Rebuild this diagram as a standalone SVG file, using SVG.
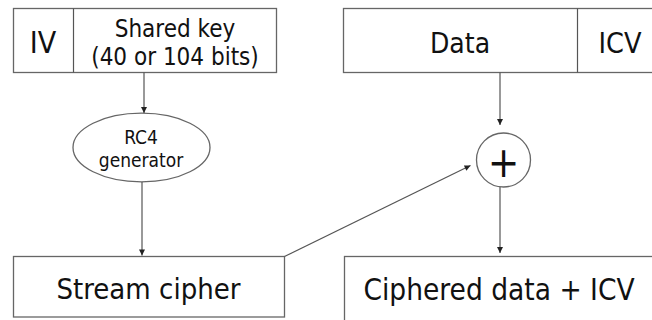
<svg xmlns="http://www.w3.org/2000/svg" width="652" height="320" viewBox="0 0 652 320">
<style>
.box{fill:#fff;stroke:#666;stroke-width:1.3}
.ln{stroke:#555;stroke-width:1.2;fill:none}
.t{font-family:"DejaVu Sans Condensed","DejaVu Sans",sans-serif;font-stretch:condensed;fill:#111;text-anchor:middle}
</style>
<defs>
<marker id="ah" viewBox="0 0 10 10" refX="10" refY="5" markerWidth="7" markerHeight="6" markerUnits="userSpaceOnUse" orient="auto">
<path d="M0,0 L10,5 L0,10 z" fill="#222"/>
</marker>
</defs>
<rect width="652" height="320" fill="#fff"/>
<g id="key">
<rect class="box" x="13.5" y="8.5" width="263" height="64"/>
<line class="ln" x1="73.5" y1="8.5" x2="73.5" y2="72.5"/>
<text class="t" x="43" y="53" font-size="30">IV</text>
<text class="t" x="175" y="37" font-size="24">Shared key</text>
<text class="t" x="175" y="65" font-size="24">(40 or 104 bits)</text>
</g>
<g id="data">
<rect class="box" x="343.5" y="8.5" width="320" height="64"/>
<line class="ln" x1="577.5" y1="8.5" x2="577.5" y2="72.5"/>
<text class="t" x="460" y="53" font-size="28">Data</text>
<text class="t" x="620" y="53" font-size="28.5">ICV</text>
</g>
<g id="rc4">
<ellipse class="box" cx="141.5" cy="147.5" rx="68.5" ry="34.3"/>
<text class="t" x="141" y="144" font-size="19">RC4</text>
<text class="t" x="141" y="167" font-size="19">generator</text>
</g>
<g id="xor">
<circle class="box" cx="503.5" cy="160" r="27"/>
<text class="t" x="503.5" y="177" font-size="42">+</text>
</g>
<g id="stream">
<rect class="box" x="13.5" y="256.5" width="271" height="60.5"/>
<text class="t" x="148.5" y="299" font-size="29">Stream cipher</text>
</g>
<g id="ciphered">
<rect class="box" x="344.5" y="256.5" width="320" height="80"/>
<text class="t" x="499" y="300" font-size="29.5">Ciphered data + ICV</text>
</g>
<g id="connectors">
<line class="ln" x1="144" y1="72.5" x2="144" y2="113" marker-end="url(#ah)"/>
<line class="ln" x1="142" y1="182" x2="142" y2="255.5" marker-end="url(#ah)"/>
<line class="ln" x1="500" y1="72.5" x2="500" y2="125" marker-end="url(#ah)"/>
<line class="ln" x1="500" y1="187" x2="500" y2="253" marker-end="url(#ah)"/>
<line class="ln" x1="284.5" y1="256.5" x2="470.5" y2="165.5" marker-end="url(#ah)"/>
</g>
</svg>
